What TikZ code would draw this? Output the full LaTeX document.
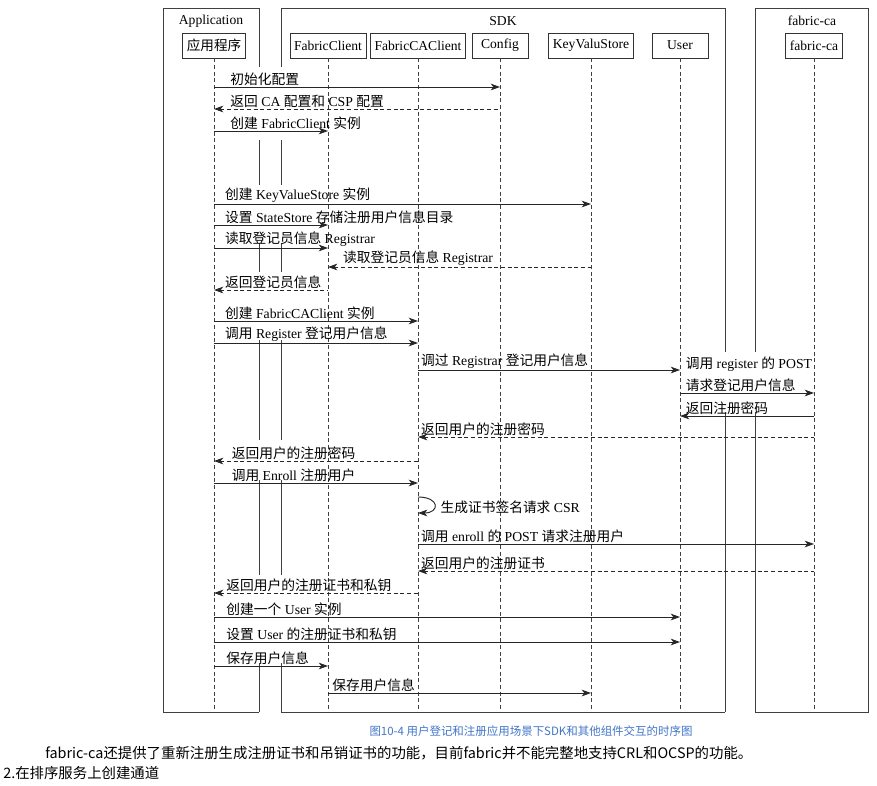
\documentclass[tikz,border=0pt]{standalone}
\usepackage{fontspec}
\setmainfont{Liberation Serif}
\newfontfamily\zhfont{Noto Sans CJK SC}
\usetikzlibrary{arrows.meta,positioning,calc}
\definecolor{capblue}{RGB}{66,118,200}
\newcommand{\zh}[1]{{\zhfont #1}}
\tikzset{
  seqframe/.style={draw=black!75, line width=0.7pt},
  seqtitle/.style={font=\fontsize{10.2}{12}\selectfont, inner sep=1pt},
  seqobj/.style={draw=black!80, line width=0.7pt, minimum height=18.75pt,
    minimum width=42pt, inner xsep=3pt, font=\fontsize{10.2}{12}\selectfont},
  lifeline/.style={draw=black!75, line width=0.6pt, dash pattern=on 3pt off 2pt},
  seqcall/.style={draw=black!85, line width=0.7pt,
    -{Stealth[length=7pt,width=5pt,inset=2pt]}},
  seqret/.style={draw=black!85, line width=0.7pt, dash pattern=on 3pt off 2pt,
    {Stealth[length=7pt,width=5pt,inset=2pt]}-},
  seqback/.style={draw=black!85, line width=0.7pt,
    {Stealth[length=7pt,width=5pt,inset=2pt]}-},
  msglabel/.style={anchor=south west, inner sep=1pt, align=left,
    font=\fontsize{10.3}{16.5}\selectfont},
}
%% one message: style, left object, right object, row, text shift, label
\newcommand{\seqmsg}[6]{%
  \coordinate (r#4) at (0,#4);
  \draw[#1] (#2 |- r#4) -- (#3 |- r#4)
    node[msglabel, pos=0, xshift=#5] (l#4) {#6};
}

\begin{document}
\begin{tikzpicture}[x=0.75pt, y=-0.75pt]
\fill[white] (0,0) rectangle (877,785);
\useasboundingbox (0,0) rectangle (877,785);

%% Frames
\draw[seqframe] (259,8) -- (163,8) -- (163,712) -- (259,712);
\draw[seqframe] (281,8) -- (725,8) (281,712) -- (725,712);
\draw[seqframe] (755,8) -- (868,8) -- (868,712) -- (755,712);
\foreach \a/\b in {8/67,140/185,243/272,340/440,480/575,663/712}
  \draw[seqframe] (259,\a) -- (259,\b) (281,\a) -- (281,\b);
\foreach \a/\b in {8/352,412/712}
  \draw[seqframe] (725,\a) -- (725,\b) (755,\a) -- (755,\b);
\node[seqtitle] (tapp) at (211,21) {Application};
\node[seqtitle] (tsdk) at (503,21) {SDK};
\node[seqtitle] (tca)  at (812,21) {fabric-ca};

%% Objects
\node[seqobj] (app)  at (214,45.5) {\zh{应用程序}};
\node[seqobj] (fc)   at (328,45.5) {FabricClient};
\node[seqobj] (fcac) at (418,45.5) {FabricCAClient};
\node[seqobj] (cfg)  at (500,45.5) {Config};
\node[seqobj] (kvs)  at (591,45.5) {KeyValuStore};
\node[seqobj] (user) at (680,45.5) {User};
\node[seqobj] (ca)   at (814,45.5) {fabric-ca};

\coordinate (bot) at (0,712);
\foreach \o in {app,fc,fcac,cfg,kvs,user,ca}
  \draw[lifeline] (\o.south) -- (\o |- bot);

%% Messages
\seqmsg{seqcall}{app}{cfg}{87}{11pt}{\zh{初始化配置}}
\seqmsg{seqret}{app}{cfg}{109}{11pt}{\zh{返回} CA \zh{配置和} CSP \zh{配置}}
\seqmsg{seqcall}{app}{fc}{131}{11pt}{\zh{创建} FabricClient \zh{实例}}
\seqmsg{seqcall}{app}{kvs}{204}{7pt}{\zh{创建} KeyValueStore \zh{实例}}
\seqmsg{seqcall}{app}{fc}{225}{7pt}{\zh{设置} StateStore \zh{存储注册用户信息目录}}
\seqmsg{seqcall}{app}{fc}{248}{7pt}{\zh{读取登记员信息} Registrar}
\seqmsg{seqret}{fc}{kvs}{267}{10pt}{\zh{读取登记员信息} Registrar}
\seqmsg{seqret}{app}{fc}{290}{7pt}{\zh{返回登记员信息}}
\seqmsg{seqcall}{app}{fcac}{321}{7pt}{\zh{创建} FabricCAClient \zh{实例}}
\seqmsg{seqcall}{app}{fcac}{343}{7pt}{\zh{调用} Register \zh{登记用户信息}}
\seqmsg{seqcall}{fcac}{user}{370}{1pt}{\zh{调过} Registrar \zh{登记用户信息}}
\seqmsg{seqcall}{user}{ca}{393}{3pt}{\zh{调用} register \zh{的} POST\\\zh{请求登记用户信息}}
\seqmsg{seqback}{user}{ca}{416}{3pt}{\zh{返回注册密码}}
\seqmsg{seqret}{fcac}{ca}{437}{1pt}{\zh{返回用户的注册密码}}
\seqmsg{seqret}{app}{fcac}{461}{12pt}{\zh{返回用户的注册密码}}
\seqmsg{seqcall}{app}{fcac}{483}{12pt}{\zh{调用} Enroll \zh{注册用户}}

%% self call on FabricCAClient
\coordinate (r497) at (0,497);
\coordinate (r513) at (0,513);
\draw[seqcall] (fcac |- r497) .. controls +(22,0) and +(22,0) .. (fcac |- r513);
\node[msglabel, anchor=west] (lcsr) at (439,507) {\zh{生成证书签名请求} CSR};

\seqmsg{seqcall}{fcac}{ca}{544}{1pt}{\zh{调用} enroll \zh{的} POST \zh{请求注册用户}}
\seqmsg{seqret}{fcac}{ca}{571}{1pt}{\zh{返回用户的注册证书}}
\seqmsg{seqret}{app}{fcac}{593}{8pt}{\zh{返回用户的注册证书和私钥}}
\seqmsg{seqcall}{app}{user}{617}{8pt}{\zh{创建一个} User \zh{实例}}
\seqmsg{seqcall}{app}{user}{642}{8pt}{\zh{设置} User \zh{的注册证书和私钥}}
\seqmsg{seqcall}{app}{fc}{666}{8pt}{\zh{保存用户信息}}
\seqmsg{seqcall}{fc}{kvs}{693}{2pt}{\zh{保存用户信息}}

%% Caption and text below
\node[font=\zhfont\fontsize{8.6}{10}\selectfont, text=capblue] (cap) at (531,731)
  {图10-4 用户登记和注册应用场景下SDK和其他组件交互的时序图};
\node[anchor=west, inner sep=0pt, font=\zhfont\fontsize{10.8}{12}\selectfont] (para) at (45,753)
  {fabric-ca还提供了重新注册生成注册证书和吊销证书的功能，目前fabric并不能完整地支持CRL和OCSP的功能。};
\node[anchor=west, inner sep=0pt, font=\zhfont\fontsize{10.8}{12}\selectfont] (sect) at (3,773)
  {2.在排序服务上创建通道};
\end{tikzpicture}
\end{document}
